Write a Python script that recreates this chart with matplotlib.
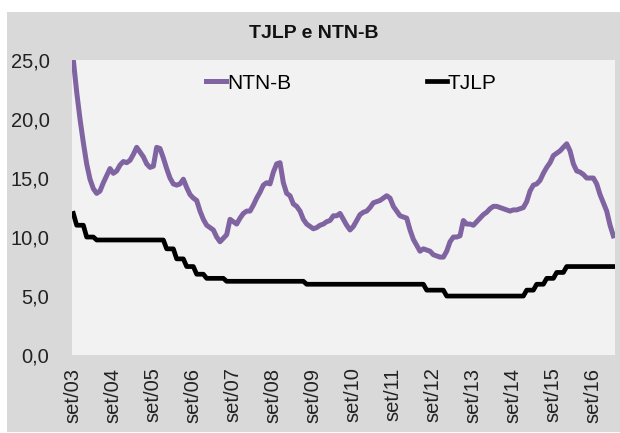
import matplotlib
matplotlib.use("Agg")
import matplotlib.pyplot as plt
from matplotlib.patches import Rectangle

plt.rcParams['font.family'] = ['Liberation Sans', 'DejaVu Sans']

# monthly values, set/03 ... mar/17
ntnb = [
	25.0, 22.3, 20.0, 18.0, 16.2, 14.9, 14.1, 13.7, 13.9, 14.6,
	15.2, 15.8, 15.4, 15.6, 16.1, 16.4, 16.3, 16.5, 17.0, 17.6,
	17.2, 16.8, 16.2, 15.9, 16.0, 17.6, 17.5, 16.7, 15.8, 15.0,
	14.5, 14.4, 14.5, 14.9, 14.2, 13.6, 13.3, 13.1, 12.2, 11.5,
	11.0, 10.8, 10.6, 10.0, 9.6, 9.9, 10.2, 11.5, 11.3, 11.1,
	11.6, 12.0, 12.2, 12.2, 12.7, 13.3, 13.8, 14.4, 14.6, 14.5,
	15.5, 16.2, 16.3, 14.6, 13.7, 13.5, 12.8, 12.6, 12.2, 11.5,
	11.1, 10.9, 10.7, 10.8, 11.0, 11.1, 11.3, 11.4, 11.8, 11.8,
	12.0, 11.5, 11.0, 10.6, 10.9, 11.4, 11.9, 12.1, 12.2, 12.5,
	12.9, 13.0, 13.1, 13.3, 13.5, 13.3, 12.6, 12.2, 11.8, 11.7,
	11.6, 10.6, 9.8, 9.3, 8.8, 9.0, 8.9, 8.8, 8.5, 8.4,
	8.3, 8.3, 8.8, 9.6, 10.0, 10.0, 10.1, 11.4, 11.1, 11.1,
	11.0, 11.3, 11.6, 11.9, 12.1, 12.4, 12.6, 12.6, 12.5, 12.4,
	12.3, 12.2, 12.3, 12.3, 12.4, 12.5, 13.0, 13.9, 14.4, 14.5,
	14.8, 15.4, 15.9, 16.3, 16.9, 17.1, 17.3, 17.6, 17.9, 17.3,
	16.2, 15.6, 15.5, 15.3, 15.0, 15.0, 15.0, 14.5, 13.6, 12.9,
	12.2, 11.0, 10.1,
]

tjlp = [
	12.0, 11.0, 11.0, 11.0, 10.0, 10.0, 10.0, 9.75, 9.75, 9.75,
	9.75, 9.75, 9.75, 9.75, 9.75, 9.75, 9.75, 9.75, 9.75, 9.75,
	9.75, 9.75, 9.75, 9.75, 9.75, 9.75, 9.75, 9.75, 9.0, 9.0,
	9.0, 8.15, 8.15, 8.15, 7.5, 7.5, 7.5, 6.85, 6.85, 6.85,
	6.5, 6.5, 6.5, 6.5, 6.5, 6.5, 6.25, 6.25, 6.25, 6.25,
	6.25, 6.25, 6.25, 6.25, 6.25, 6.25, 6.25, 6.25, 6.25, 6.25,
	6.25, 6.25, 6.25, 6.25, 6.25, 6.25, 6.25, 6.25, 6.25, 6.25,
	6.0, 6.0, 6.0, 6.0, 6.0, 6.0, 6.0, 6.0, 6.0, 6.0,
	6.0, 6.0, 6.0, 6.0, 6.0, 6.0, 6.0, 6.0, 6.0, 6.0,
	6.0, 6.0, 6.0, 6.0, 6.0, 6.0, 6.0, 6.0, 6.0, 6.0,
	6.0, 6.0, 6.0, 6.0, 6.0, 6.0, 5.5, 5.5, 5.5, 5.5,
	5.5, 5.5, 5.0, 5.0, 5.0, 5.0, 5.0, 5.0, 5.0, 5.0,
	5.0, 5.0, 5.0, 5.0, 5.0, 5.0, 5.0, 5.0, 5.0, 5.0,
	5.0, 5.0, 5.0, 5.0, 5.0, 5.0, 5.5, 5.5, 5.5, 6.0,
	6.0, 6.0, 6.5, 6.5, 6.5, 7.0, 7.0, 7.0, 7.5, 7.5,
	7.5, 7.5, 7.5, 7.5, 7.5, 7.5, 7.5, 7.5, 7.5, 7.5,
	7.5, 7.5, 7.5,
]

xlabels = ['set/03', 'set/04', 'set/05', 'set/06', 'set/07', 'set/08', 'set/09',
	'set/10', 'set/11', 'set/12', 'set/13', 'set/14', 'set/15', 'set/16']
yticks = [0, 5, 10, 15, 20, 25]


def solve():
	fig = plt.figure(figsize=(6.2, 4.33), dpi=100)
	fig.patch.set_facecolor('white')
	# gray chart frame behind the plot area
	fig.patches.append(Rectangle((0.0113, 0.002), 0.9887, 0.970, transform=fig.transFigure,
		facecolor='#d9d9d9', edgecolor='none', zorder=-10))

	ax = fig.add_axes([0.1156, 0.180, 0.8764, 0.6814])
	ax.set_zorder(5)
	ax.set_facecolor('#f2f2f2')
	X = list(range(len(ntnb)))
	ax.plot(X, ntnb, color='#8064a2', lw=3.6, label='NTN-B', solid_joinstyle='round')
	ax.plot(list(range(len(tjlp))), tjlp, color='black', lw=3.4, label='TJLP')

	ax.set_xlim(-0.5, len(ntnb) - 0.5)
	ax.set_ylim(0, 25)
	ax.set_yticks(yticks)
	ax.set_yticklabels([('%.1f' % v).replace('.', ',') for v in yticks])
	ax.set_xticks([12 * i for i in range(len(xlabels))])
	ax.set_xticklabels(xlabels, rotation=90)
	ax.tick_params(axis='both', length=0, labelsize=14.5, colors='#222222')
	ax.tick_params(axis='y', pad=16)
	ax.tick_params(axis='x', pad=9)
	for s in ax.spines.values():
		s.set_visible(False)

	ax.legend(loc='center', bbox_to_anchor=(0.515, 0.922), ncol=2, frameon=False,
		fontsize=15, handlelength=0.95, handletextpad=0.05, columnspacing=6.5)

	fig.text(0.506, 0.922, 'TJLP e NTN-B', ha='center', va='center', fontsize=14,
		fontweight='bold', color='#111111')

	fig.savefig('out.png', dpi=100, facecolor=fig.get_facecolor())


if __name__ == "__main__":
	solve()
